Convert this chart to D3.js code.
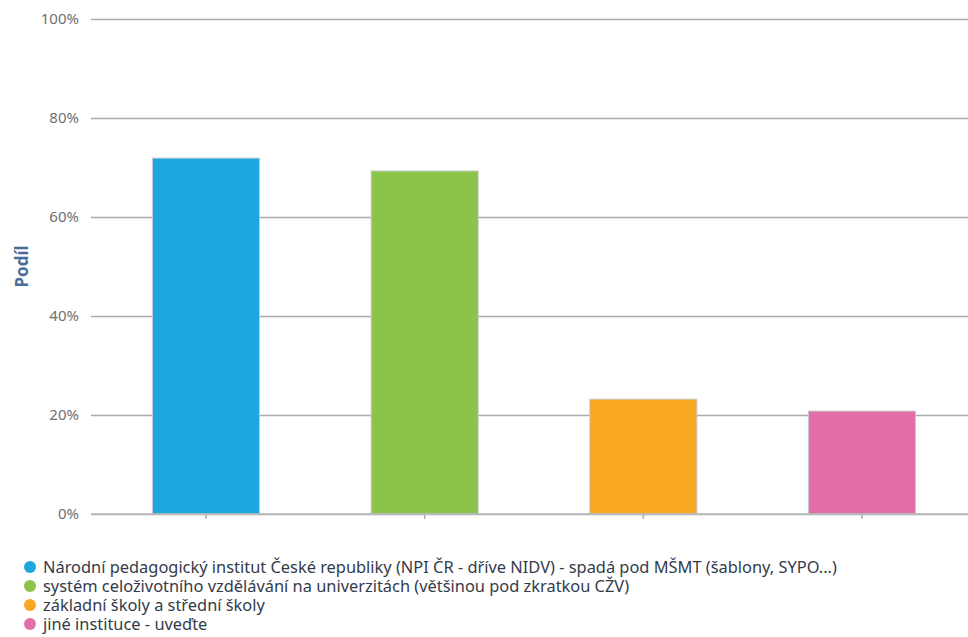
<!DOCTYPE html>
<html><head><meta charset="utf-8">
<script src="https://cdn.jsdelivr.net/npm/d3@7"></script>
<style>body{margin:0;background:#fff;} svg{display:block;}</style>
</head><body>
<svg id="c" width="968" height="637"></svg>
<script>
const categories = [
  "Národní pedagogický institut České republiky (NPI ČR - dříve NIDV) - spadá pod MŠMT (šablony, SYPO...)",
  "systém celoživotního vzdělávání na univerzitách (většinou pod zkratkou CŽV)",
  "základní školy a střední školy",
  "jiné instituce - uveďte"
];
const values = [71.9, 69.3, 23.2, 20.8];
const colors = ["#1ea7df", "#8ac449", "#f8a823", "#e46ea8"];
const yTicks = [0, 20, 40, 60, 80, 100];
const yTitle = "Podíl";

const font = "'Noto Sans', sans-serif";
const svg = d3.select("#c");
const y = d3.scaleLinear().domain([0, 100]).range([514, 19]);
const x = d3.scaleBand().domain(categories).range([96.7, 971.3]).paddingInner(0.51).paddingOuter(0.255);

// grid
const yAxis = d3.axisLeft(y).tickValues(yTicks).tickFormat(d => d + "%").tickSize(-877).tickPadding(12);
const gy = svg.append("g").attr("transform", "translate(91,0)").call(yAxis);
gy.select(".domain").remove();
gy.selectAll(".tick line").attr("stroke", "#aaa").attr("stroke-width", 1.5);
gy.selectAll(".tick text").attr("fill", "#707070").attr("font-size", 15).attr("font-family", font);

// bars
svg.append("g").selectAll("rect").data(categories).join("rect")
  .attr("x", d => x(d))
  .attr("y", (d, i) => y(values[i]))
  .attr("width", x.bandwidth())
  .attr("height", (d, i) => y(0) - y(values[i]))
  .attr("fill", (d, i) => colors[i])
  .attr("stroke", "#ccc").attr("stroke-width", 1);

// x axis
const xAxis = d3.axisBottom(x).tickSize(5).tickFormat("");
const gx = svg.append("g").attr("transform", "translate(0,514)").call(xAxis);
gx.select(".domain").remove();
gx.selectAll(".tick line").attr("stroke", "#aaa").attr("stroke-width", 1.5);
svg.append("line").attr("x1", 91).attr("x2", 968).attr("y1", y(0)).attr("y2", y(0))
  .attr("stroke", "#b5b8bd").attr("stroke-width", 1.5);

// y title
svg.append("text").attr("transform", "translate(28,266.5) rotate(-90)")
  .attr("text-anchor", "middle").attr("font-family", font).attr("font-size", 17)
  .attr("font-weight", "bold").attr("fill", "#4a6d96").text(yTitle);

// legend
const lg = svg.append("g").selectAll("g").data(categories).join("g")
  .attr("transform", (d, i) => `translate(30,${567 + i * 19})`);
lg.append("circle").attr("r", 6).attr("fill", (d, i) => colors[i]);
lg.append("text").attr("x", 13).attr("dy", "0.35em").attr("font-family", font)
  .attr("font-size", 16.4).attr("fill", "#333b4a").text(d => d);
</script>
</body></html>
